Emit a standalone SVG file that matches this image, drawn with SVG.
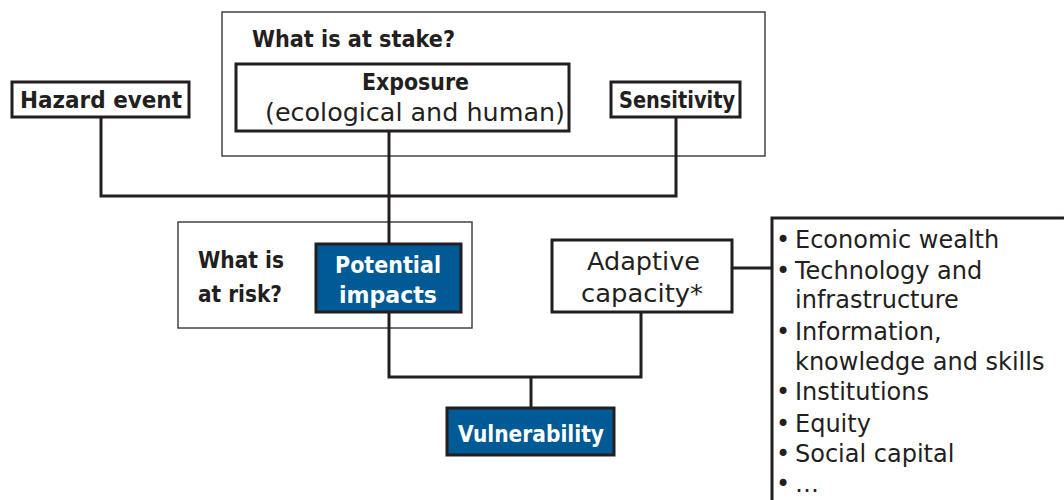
<svg xmlns="http://www.w3.org/2000/svg" width="1064" height="500" viewBox="0 0 1064 500">
<style>
text{font-family:"DejaVu Sans","Liberation Sans",sans-serif;fill:#231f20}
.b{font-weight:bold;font-size:23px}
.r{font-size:24px}
.w{fill:#fff}
.grp{fill:none;stroke:#444;stroke-width:1.5}
.box{fill:#fff;stroke:#231f20;stroke-width:3}
.blue{fill:#005a96;stroke:#231f20;stroke-width:3}
.ln{fill:none;stroke:#231f20;stroke-width:3}
.li{font-size:24px}
</style>
<g id="stake-group"><rect class="grp" x="222" y="12" width="543" height="144"/><text class="b" x="252" y="47" textLength="203" lengthAdjust="spacingAndGlyphs">What is at stake?</text></g>
<g id="risk-group"><rect class="grp" x="178" y="222" width="294" height="106"/><text class="b" x="198" y="268" textLength="86" lengthAdjust="spacingAndGlyphs">What is</text><text class="b" x="198" y="302" textLength="84" lengthAdjust="spacingAndGlyphs">at risk?</text></g>
<g id="connectors">
<polyline class="ln" points="101,117 101,196 676,196 676,117"/>
<line class="ln" x1="389" y1="131" x2="389" y2="244"/>
<polyline class="ln" points="389,312 389,377 641,377 641,312"/>
<line class="ln" x1="531" y1="377" x2="531" y2="408"/>
<line class="ln" x1="732" y1="268" x2="772" y2="268"/>
</g>
<g id="hazard"><rect class="box" x="12" y="82" width="177" height="35"/><text class="b" x="20" y="108" textLength="162" lengthAdjust="spacingAndGlyphs">Hazard event</text></g>
<g id="exposure"><rect class="box" x="236" y="64" width="333" height="67"/><text class="b" x="362" y="90" textLength="107" lengthAdjust="spacingAndGlyphs">Exposure</text><text class="r" x="265" y="121" textLength="300" lengthAdjust="spacingAndGlyphs">(ecological and human)</text></g>
<g id="sensitivity"><rect class="box" x="611" y="82" width="129" height="35"/><text class="b" x="619" y="108" textLength="116" lengthAdjust="spacingAndGlyphs">Sensitivity</text></g>
<g id="potential"><rect class="blue" x="316" y="244" width="145" height="68"/><text class="b w" x="335" y="273" textLength="106" lengthAdjust="spacingAndGlyphs">Potential</text><text class="b w" x="339" y="303" textLength="98" lengthAdjust="spacingAndGlyphs">impacts</text></g>
<g id="adaptive"><rect class="box" x="552" y="240" width="180" height="72"/><text class="r" x="587" y="270" textLength="113" lengthAdjust="spacingAndGlyphs">Adaptive</text><text class="r" x="581" y="302" textLength="122" lengthAdjust="spacingAndGlyphs">capacity*</text></g>
<g id="vulnerability"><rect class="blue" x="447" y="408" width="167" height="47"/><text class="b w" x="458" y="442" textLength="146" lengthAdjust="spacingAndGlyphs">Vulnerability</text></g>
<g id="list"><polyline class="ln" points="772,502 772,218 1066,218"/>
<g class="li">
<text x="776" y="248">•</text><text x="795" y="248">Economic wealth</text>
<text x="776" y="279">•</text><text x="795" y="279">Technology and</text>
<text x="795" y="308">infrastructure</text>
<text x="776" y="340">•</text><text x="795" y="340">Information,</text>
<text x="795" y="370">knowledge and skills</text>
<text x="776" y="400">•</text><text x="795" y="400">Institutions</text>
<text x="776" y="432">•</text><text x="795" y="432">Equity</text>
<text x="776" y="462">•</text><text x="795" y="462">Social capital</text>
<text x="776" y="492">•</text><text x="795" y="492">…</text>
</g></g>
</svg>
